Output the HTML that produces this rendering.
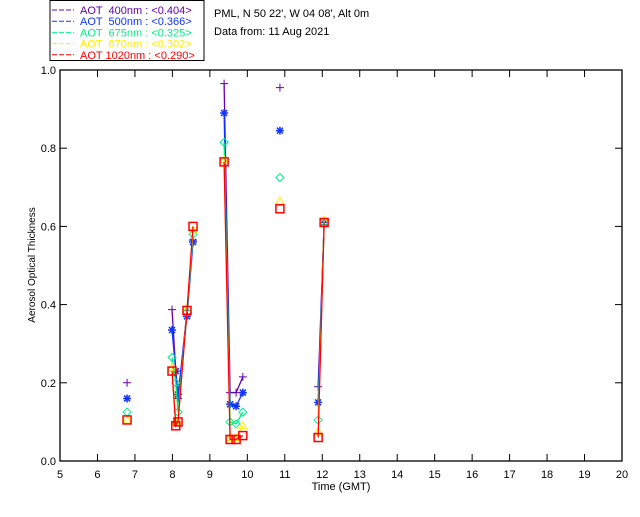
<!DOCTYPE html>
<html><head><meta charset="utf-8"><style>
body{margin:0;background:#fff;width:640px;height:512px;overflow:hidden}
svg{font-family:"Liberation Sans","DejaVu Sans",sans-serif;font-size:11px}
.pre{white-space:pre}
</style></head><body>
<svg width="640" height="512" id="c">
<rect x="50" y="0.5" width="154" height="60" fill="none" stroke="#000"/>
<g id="legend"></g>
<text x="214" y="17" font-size="11">PML, N 50 22', W 04 08', Alt 0m</text>
<text x="214" y="35" font-size="11">Data from: 11 Aug 2021</text>
<g id="axes"></g>
<text transform="translate(35,265) rotate(-90)" text-anchor="middle" font-size="10">Aerosol Optical Thickness</text>
<text x="341" y="490" text-anchor="middle" font-size="11">Time (GMT)</text>
<g id="plot"></g>
</svg>
<script>
const times=[6.79,7.99,8.09,8.15,8.39,8.55,9.38,9.54,9.70,9.88,10.87,11.89,12.05];
const groups=[0,1,1,1,1,1,2,2,2,2,3,4,4];
const aot400=[0.20,0.387,0.23,0.16,0.385,0.565,0.965,0.175,0.175,0.215,0.955,0.19,0.61];
const aot500=[0.16,0.335,0.23,0.17,0.37,0.56,0.89,0.145,0.14,0.175,0.845,0.15,0.61];
const aot675=[0.125,0.265,0.2,0.125,0.38,0.58,0.815,0.10,0.095,0.125,0.725,0.105,0.61];
const aot870=[0.105,0.24,0.10,0.10,0.39,0.59,0.77,0.06,0.06,0.09,0.665,0.075,0.615];
const aot1020=[0.105,0.23,0.09,0.10,0.385,0.60,0.765,0.055,0.055,0.065,0.645,0.06,0.61];
const labels=["AOT  400nm : <0.404>","AOT  500nm : <0.366>","AOT  675nm : <0.325>","AOT  870nm : <0.302>","AOT 1020nm : <0.290>"];
const xTicks=[5,6,7,8,9,10,11,12,13,14,15,16,17,18,19,20];
const yTicks=[0,0.2,0.4,0.6,0.8,1.0];
const NS="http://www.w3.org/2000/svg";
const colors=["#6600aa","#1133ff","#00ee88","#ffee00","#ff0000"];
const series=[aot400,aot500,aot675,aot870,aot1020];
const X0=60,X1=622,Y0=461,Y1=70;
const xs=t=>X0+(t-5)/15*(X1-X0);
const ys=v=>Y0-v*(Y0-Y1);
function mk(tag,at,parent){const e=document.createElementNS(NS,tag);for(const k in at)e.setAttribute(k,at[k]);parent.appendChild(e);return e;}
const ax=document.getElementById('axes');
const fr=mk('rect',{x:X0,y:Y1,width:X1-X0,height:Y0-Y1,fill:'none',stroke:'#000','stroke-width':1.3},ax);


xTicks.forEach(t=>{
 const x=xs(t);
 mk('line',{x1:x,x2:x,y1:Y0,y2:Y0-7,stroke:'#000'},ax);
 mk('line',{x1:x,x2:x,y1:Y1,y2:Y1+7,stroke:'#000'},ax);
 const tx=mk('text',{x:x,y:478,'text-anchor':'middle','font-size':11},ax);tx.textContent=t;
 
 
});
yTicks.forEach(v=>{
 const y=ys(v);
 mk('line',{x1:X0,x2:X0+7,y1:y,y2:y,stroke:'#000'},ax);
 mk('line',{x1:X1,x2:X1-7,y1:y,y2:y,stroke:'#000'},ax);
 const tx=mk('text',{x:56,y:y+4,'text-anchor':'end','font-size':11},ax);tx.textContent=v.toFixed(1);
 
 
});
const pl=document.getElementById('plot');
function marker(k,x,y,c,g){
 const s=4;
 if(k==0){mk('path',{d:`M${x-s} ${y}H${x+s}M${x} ${y-s}V${y+s}`,stroke:c,fill:'none'},g);}
 else if(k==1){mk('path',{d:`M${x-s} ${y}H${x+s}M${x} ${y-s}V${y+s}M${x-3} ${y-3}L${x+3} ${y+3}M${x-3} ${y+3}L${x+3} ${y-3}`,stroke:c,'stroke-width':1.5,fill:'none'},g);}
 else if(k==2){mk('path',{d:`M${x} ${y-s}L${x+s} ${y}L${x} ${y+s}L${x-s} ${y}Z`,stroke:c,fill:'none'},g);}
 else if(k==3){mk('path',{d:`M${x} ${y-s}L${x+s} ${y+3}L${x-s} ${y+3}Z`,stroke:c,fill:'none'},g);}
 else {mk('rect',{x:x-4,y:y-4,width:8,height:8,stroke:c,'stroke-width':1.5,fill:'none'},g);}
}
series.forEach((vals,k)=>{
 const g=mk('g',{},pl);
 
 
 let d='';
 vals.forEach((v,i)=>{
  const x=xs(times[i]),y=ys(v);
  d+=(i>0&&groups[i]==groups[i-1]?'L':'M')+x+' '+y;
 });
 mk('path',{d:d,stroke:colors[k],fill:'none','stroke-width':1.3},g);
 vals.forEach((v,i)=>marker(k,xs(times[i]),ys(v),colors[k],g));
});
const lg=document.getElementById('legend');
labels.forEach((l,k)=>{
 const y=10+k*11.2;
 mk('line',{x1:52,x2:74,y1:y,y2:y,stroke:colors[k],'stroke-dasharray':'5,2'},lg);
 const t=mk('text',{x:80,y:y+4,fill:colors[k],'font-size':11,'class':'pre'},lg);
 t.textContent=l;
 
 
});
</script>
</body></html>
